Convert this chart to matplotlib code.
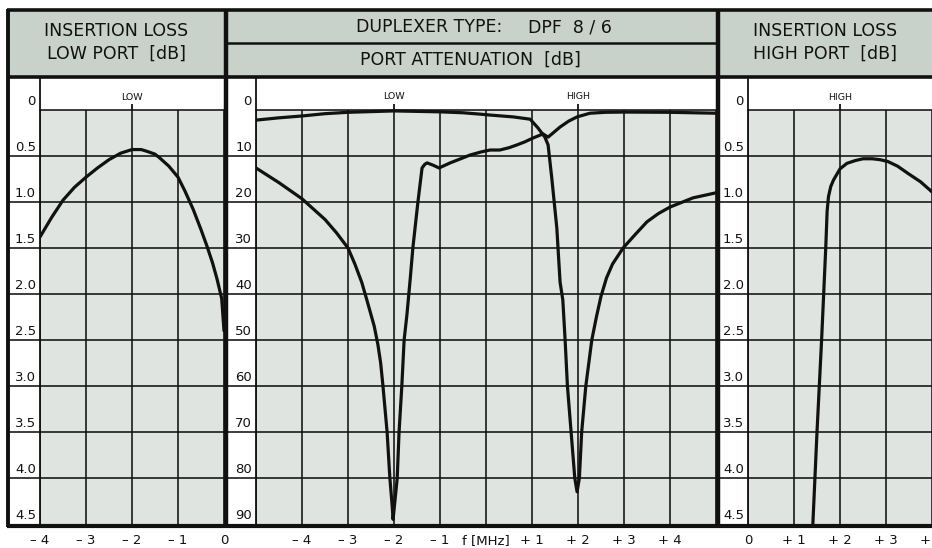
import matplotlib
matplotlib.use('Agg')
import matplotlib.pyplot as plt
from matplotlib.transforms import blended_transform_factory as btf, offset_copy
from matplotlib.patches import Rectangle

# ---------------- data ----------------
# Insertion loss, low port [dB] vs f [MHz]
low_il_f = [-4.0, -3.75, -3.5, -3.25, -3.0, -2.75, -2.5, -2.25, -2.0, -1.8, -1.67, -1.5, -1.4, -1.2, -1.0,
            -0.85, -0.67, -0.5, -0.37, -0.25, -0.15, -0.05, 0.0]
low_il_db = [1.38, 1.17, 0.98, 0.84, 0.73, 0.63, 0.54, 0.47, 0.43, 0.43, 0.45, 0.48, 0.52, 0.61, 0.73,
             0.88, 1.08, 1.3, 1.48, 1.66, 1.84, 2.05, 2.4]

# Port attenuation [dB], low port curve
low_att_f = [-5.0, -4.5, -4.0, -3.5, -3.25, -3.0, -2.85, -2.7, -2.59, -2.5, -2.43, -2.35, -2.29, -2.24,
             -2.15, -2.09, -2.04, -2.02, -1.99, -1.93, -1.89, -1.83, -1.78, -1.72, -1.65, -1.59, -1.48,
             -1.39, -1.33, -1.28, -1.15, -1.02, -0.78, -0.55, -0.35, -0.1, 0.09, 0.3, 0.5, 0.67, 0.85,
             1.02, 1.24, 1.35, 1.48, 1.61, 1.8, 1.98, 2.26, 2.6, 3.0, 4.0, 5.0]
low_att_db = [12.6, 15.8, 19.3, 23.8, 26.7, 30.0, 33.5, 37.5, 41.3, 44.5, 47.0, 51.0, 55.0, 60.0,
              70.0, 80.0, 86.0, 89.0, 86.0, 80.0, 70.0, 60.0, 50.0, 44.6, 37.0, 30.0, 20.0,
              12.6, 11.8, 11.5, 12.0, 12.6, 11.5, 10.6, 9.8, 9.1, 8.7, 8.7, 8.2, 7.6, 6.9,
              6.1, 5.2, 5.9, 4.8, 3.7, 2.4, 1.5, 0.7, 0.5, 0.45, 0.5, 0.7]

# Port attenuation [dB], high port curve
high_att_f = [-5.0, -4.5, -4.0, -3.5, -3.0, -2.0, -1.0, -0.5, -0.13, 0.09, 0.59, 0.96, 1.13, 1.28, 1.35,
              1.43, 1.54, 1.61, 1.67, 1.72, 1.77, 1.85, 1.93, 1.98, 2.03, 2.08, 2.17, 2.3, 2.4, 2.5,
              2.62, 2.75, 2.98, 3.25, 3.5, 3.75, 4.0, 4.5, 5.0]
high_att_db = [2.2, 1.7, 1.3, 0.8, 0.5, 0.2, 0.4, 0.6, 0.9, 1.1, 1.5, 2.0, 3.9, 5.9, 7.6,
               14.8, 25.7, 37.4, 41.3, 50.0, 60.0, 70.0, 80.0, 83.0, 80.0, 70.0, 60.0, 50.0, 45.0, 40.5,
               36.5, 33.5, 30.0, 27.0, 24.3, 22.5, 21.1, 19.1, 18.0]

# Insertion loss, high port [dB]
high_il_f = [1.41, 1.5, 1.6, 1.69, 1.72, 1.75, 1.8, 1.86, 2.0, 2.15, 2.33, 2.5, 2.7, 2.87, 3.04, 3.25,
             3.48, 3.75, 4.0]
high_il_db = [4.5, 3.5, 2.5, 1.5, 1.1, 0.94, 0.83, 0.76, 0.64, 0.58, 0.55, 0.53, 0.53, 0.54, 0.56, 0.61,
              0.69, 0.78, 0.89]

il_ticks = [0.5, 1.0, 1.5, 2.0, 2.5, 3.0, 3.5, 4.0, 4.5]
il_ticklabels = ['0.5', '1.0', '1.5', '2.0', '2.5', '3.0', '3.5', '4.0', '4.5']
att_ticks = [10, 20, 30, 40, 50, 60, 70, 80, 90]
att_ticklabels = ['10', '20', '30', '40', '50', '60', '70', '80', '90']

left_xticks = [-4, -3, -2, -1, 0]
left_xlabels = ['– 4', '– 3', '– 2', '– 1', '0']
mid_xticks = [-4, -3, -2, -1, 0, 1, 2, 3, 4]
mid_xlabels = ['– 4', '– 3', '– 2', '– 1', 'f [MHz]', '+ 1', '+ 2', '+ 3', '+ 4']
right_xticks = [0, 1, 2, 3, 4]
right_xlabels = ['0', '+ 1', '+ 2', '+ 3', '+ 4']

# ---------------- figure ----------------
W, H = 932, 548
fig = plt.figure(figsize=(W / 100, H / 100), dpi=100)
fig.patch.set_facecolor('white')
plt.rcParams['font.family'] = ['DejaVu Sans']

HEADER = '#c9d1cb'
PLOT = '#dfe4e0'
INK = '#111111'


def px_axes(x0, x1, y0, y1):
    return fig.add_axes([x0 / W, 1 - y1 / H, (x1 - x0) / W, (y1 - y0) / H])


def setup(ax, xlim, ylim_top, ymax, yticks, ylabels, label_col_px, xticks, xlabels, markers, mark_len,
          mark_text_y):
    ax.set_xlim(*xlim)
    ax.set_ylim(ymax, ylim_top)
    ax.set_facecolor('white')
    for s in ['top', 'right', 'bottom']:
        ax.spines[s].set_visible(False)
    ax.spines['left'].set_linewidth(1.3)
    ax.spines['left'].set_color(INK)
    ax.axhspan(0, ymax, facecolor=PLOT, zorder=0, lw=0)
    xs = [x for x in range(int(xlim[0]), int(xlim[1]) + 1)]
    ax.vlines(xs, 0, ymax, color=INK, lw=1.15, zorder=1)
    trans = btf(ax.transAxes, ax.transData)
    bbox = ax.get_position()
    frac = label_col_px / (bbox.width * W)
    ax.plot([0, 1], [0, 0], transform=trans, color=INK, lw=1.15, zorder=1, clip_on=False)
    for y in yticks[:-1]:
        ax.plot([-frac, 1], [y, y], transform=trans, color=INK, lw=1.15, zorder=1, clip_on=False)
    pad = 4 / (bbox.width * W)
    ltrans = offset_copy(trans, fig=fig, x=0, y=2, units='dots')
    ax.text(-pad, 0, '0', transform=ltrans, ha='right', va='bottom', fontsize=9.5, color=INK)
    for y, lbl in zip(yticks, ylabels):
        ax.text(-pad, y, lbl, transform=ltrans, ha='right', va='bottom', fontsize=9.5, color=INK)
    ax.set_yticks([])
    ax.set_xticks(xticks, xlabels)
    ax.tick_params(axis='x', length=0, pad=7, labelsize=9.5, labelcolor=INK)
    for mx, mt in markers:
        ax.vlines([mx], -mark_len, 0, color=INK, lw=1.3, zorder=2)
        ax.text(mx, mark_text_y, mt, ha='center', va='center', fontsize=6.8, color=INK)


# left panel
axL = px_axes(40, 224, 78, 524)
setup(axL, (-4, 0), -32 / 92, 4.5, il_ticks, il_ticklabels, 32, left_xticks, left_xlabels,
      [(-2, 'LOW')], 0.065, -0.141)
axL.plot(low_il_f, low_il_db, color=INK, lw=2.3, zorder=3, solid_capstyle='round')

# center panel
axC = px_axes(256, 716, 78, 524)
setup(axC, (-5, 5), -32 / 4.6, 90, att_ticks, att_ticklabels, 30, mid_xticks, mid_xlabels,
      [(-2, 'LOW'), (2, 'HIGH')], 1.3, -2.83)
axC.plot(low_att_f, low_att_db, color=INK, lw=2.3, zorder=3, solid_capstyle='round')
axC.plot(high_att_f, high_att_db, color=INK, lw=2.3, zorder=3, solid_capstyle='round')

# right panel (extends past the picture edge, as in the reference)
axR = px_axes(748, 748 + 46 * 4.5, 78, 524)
setup(axR, (0, 4.5), -32 / 92, 4.5, il_ticks, il_ticklabels, 30, right_xticks, right_xlabels,
      [(2, 'HIGH')], 0.065, -0.141)
axR.plot(high_il_f, high_il_db, color=INK, lw=2.3, zorder=3, solid_capstyle='round')

# ---------------- overlay: header & frame ----------------
ov = fig.add_axes([0, 0, 1, 1], zorder=10)
ov.set_xlim(0, W)
ov.set_ylim(H, 0)
ov.axis('off')
ov.patch.set_alpha(0)
ov.add_patch(Rectangle((8, 10), W, 66.5, facecolor=HEADER, edgecolor='none', zorder=0))
lk = dict(color=INK, solid_capstyle='butt', zorder=2)
ov.plot([6.5, W + 5], [10, 10], lw=2.6, **lk)
ov.plot([6.5, W + 5], [76.5, 76.5], lw=2.6, **lk)
ov.plot([225, 718], [43, 43], lw=1.8, **lk)
ov.plot([7.5, 7.5], [8.7, 526.5], lw=2.8, **lk)
ov.plot([225.5, 225.5], [8.7, 526.5], lw=3.2, **lk)
ov.plot([718, 718], [8.7, 526.5], lw=3.2, **lk)
ov.plot([6.5, W + 5], [525.5, 525.5], lw=3.0, **lk)

hk = dict(ha='center', va='center', fontsize=12.5, color=INK)
ov.text(116.5, 31, 'INSERTION LOSS', **hk)
ov.text(116.5, 54, 'LOW PORT  [dB]', **hk)
ov.text(825, 31, 'INSERTION LOSS', **hk)
ov.text(825, 54, 'HIGH PORT  [dB]', **hk)
ov.text(502, 27.5, 'DUPLEXER TYPE:', ha='right', va='center', fontsize=12.5, color=INK)
ov.text(528, 27.5, 'DPF  8 / 6', ha='left', va='center', fontsize=12.5, color=INK)
ov.text(470, 59.5, 'PORT ATTENUATION  [dB]', **hk)

fig.savefig('out.png', dpi=100, facecolor='white')
